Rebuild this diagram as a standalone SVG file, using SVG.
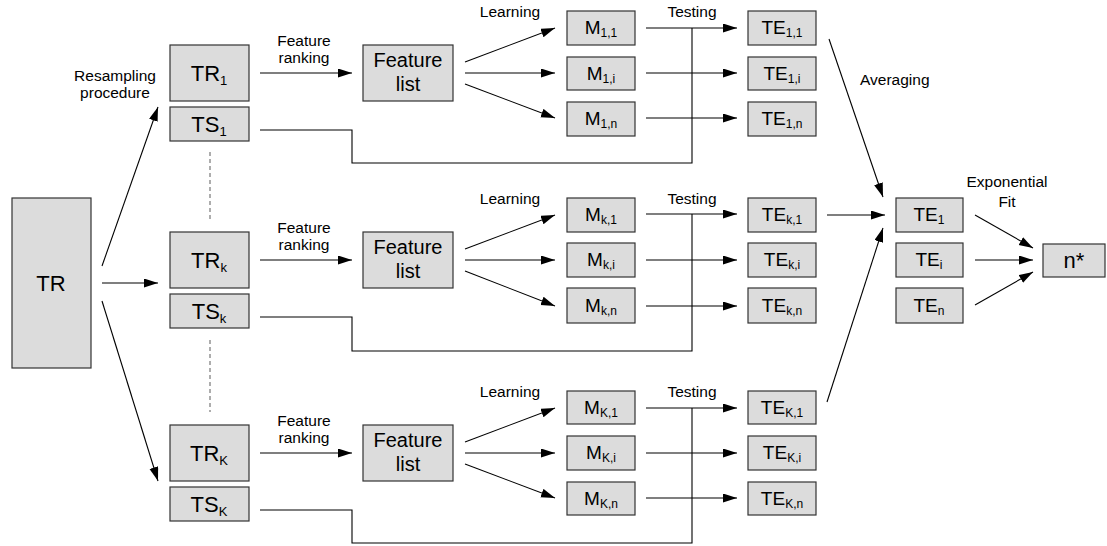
<svg xmlns="http://www.w3.org/2000/svg" width="1107" height="546" viewBox="0 0 1107 546">
<style>
.box{fill:#dcdcdc;stroke:#333;stroke-width:1.2}
.ln{fill:none;stroke:#000;stroke-width:1.1}
.ar{fill:none;stroke:#000;stroke-width:1.1;marker-end:url(#ah)}
.dash{fill:none;stroke:#777;stroke-width:1.2;stroke-dasharray:4,3}
text{font-family:"Liberation Sans",Arial,sans-serif;fill:#000;text-anchor:middle}
.big{font-size:22px}
.fl{font-size:20px}
.m{font-size:19px}
.lab{font-size:15.5px}
.sb{font-size:13px}
.ss{font-size:12px}
</style>
<defs>
<marker id="ah" markerUnits="userSpaceOnUse" markerWidth="16" markerHeight="10" refX="14" refY="4.5" orient="auto">
<path d="M0,0 L14,4.5 L0,9 z" fill="#000"/>
</marker>
</defs>
<g id="connectors">
<line class="ar" x1="102" y1="266" x2="158" y2="107"/>
<line class="ar" x1="102" y1="283" x2="158" y2="283"/>
<line class="ar" x1="102" y1="301" x2="158" y2="481"/>
<line class="dash" x1="210" y1="152" x2="210" y2="222"/>
<line class="dash" x1="210" y1="340" x2="210" y2="412"/>
<line class="ar" x1="260" y1="73" x2="352" y2="73"/>
<line class="ar" x1="465" y1="62" x2="555" y2="28"/>
<line class="ar" x1="465" y1="73" x2="555" y2="73"/>
<line class="ar" x1="465" y1="84" x2="555" y2="118"/>
<line class="ar" x1="646" y1="28" x2="737" y2="28"/>
<line class="ar" x1="646" y1="73" x2="737" y2="73"/>
<line class="ar" x1="646" y1="118" x2="737" y2="118"/>
<polyline class="ln" points="260,130 352,130 352,163 692,163 692,28"/>
<line class="ar" x1="260" y1="260" x2="352" y2="260"/>
<line class="ar" x1="465" y1="249" x2="555" y2="215"/>
<line class="ar" x1="465" y1="260" x2="555" y2="260"/>
<line class="ar" x1="465" y1="271" x2="555" y2="306"/>
<line class="ar" x1="646" y1="214" x2="737" y2="214"/>
<line class="ar" x1="646" y1="260" x2="737" y2="260"/>
<line class="ar" x1="646" y1="306" x2="737" y2="306"/>
<polyline class="ln" points="260,317 352,317 352,351 692,351 692,214"/>
<line class="ar" x1="260" y1="453" x2="352" y2="453"/>
<line class="ar" x1="465" y1="442" x2="555" y2="408"/>
<line class="ar" x1="465" y1="453" x2="555" y2="453"/>
<line class="ar" x1="465" y1="464" x2="555" y2="498"/>
<line class="ar" x1="646" y1="408" x2="737" y2="408"/>
<line class="ar" x1="646" y1="453" x2="737" y2="453"/>
<line class="ar" x1="646" y1="498" x2="737" y2="498"/>
<polyline class="ln" points="260,510 352,510 352,543 692,543 692,408"/>
<line class="ar" x1="829" y1="39" x2="883" y2="197"/>
<line class="ar" x1="827" y1="215" x2="885" y2="215"/>
<line class="ar" x1="827" y1="402" x2="883" y2="228"/>
<line class="ar" x1="975" y1="215" x2="1033" y2="248"/>
<line class="ar" x1="975" y1="260" x2="1033" y2="260"/>
<line class="ar" x1="975" y1="305" x2="1033" y2="272"/>
</g>
<g id="labels">
<text class="lab" x="115" y="81">Resampling</text>
<text class="lab" x="115" y="98">procedure</text>
<text class="lab" x="304" y="46">Feature</text>
<text class="lab" x="304" y="63">ranking</text>
<text class="lab" x="304" y="233">Feature</text>
<text class="lab" x="304" y="250">ranking</text>
<text class="lab" x="304" y="426">Feature</text>
<text class="lab" x="304" y="443">ranking</text>
<text class="lab" x="510" y="17">Learning</text>
<text class="lab" x="510" y="204">Learning</text>
<text class="lab" x="510" y="397">Learning</text>
<text class="lab" x="692" y="17">Testing</text>
<text class="lab" x="692" y="204">Testing</text>
<text class="lab" x="692" y="397">Testing</text>
<text class="lab" x="860" y="85" style="text-anchor:start">Averaging</text>
<text class="lab" x="1007" y="187">Exponential</text>
<text class="lab" x="1007" y="207">Fit</text>
</g>
<g id="TR"><rect class="box" x="12" y="198" width="79" height="170"/><text class="big" x="51" y="291">TR</text></g>
<g id="TR1"><rect class="box" x="170" y="45" width="79" height="56"/><text class="big" x="209" y="81">TR<tspan class="sb" dy="4">1</tspan></text></g>
<g id="TS1"><rect class="box" x="170" y="107" width="79" height="34"/><text class="big" x="209" y="132">TS<tspan class="sb" dy="4">1</tspan></text></g>
<g id="TRk"><rect class="box" x="170" y="232" width="79" height="56"/><text class="big" x="209" y="268">TR<tspan class="sb" dy="4">k</tspan></text></g>
<g id="TSk"><rect class="box" x="170" y="294" width="79" height="34"/><text class="big" x="209" y="319">TS<tspan class="sb" dy="4">k</tspan></text></g>
<g id="TRK"><rect class="box" x="170" y="425" width="79" height="56"/><text class="big" x="209" y="461">TR<tspan class="sb" dy="4">K</tspan></text></g>
<g id="TSK"><rect class="box" x="170" y="487" width="79" height="34"/><text class="big" x="209" y="512">TS<tspan class="sb" dy="4">K</tspan></text></g>
<g id="FL1"><rect class="box" x="363" y="45" width="90" height="56"/><text class="fl" x="408" y="67">Feature</text><text class="fl" x="408" y="91">list</text></g>
<g id="FLk"><rect class="box" x="363" y="232" width="90" height="56"/><text class="fl" x="408" y="254">Feature</text><text class="fl" x="408" y="278">list</text></g>
<g id="FLK"><rect class="box" x="363" y="425" width="90" height="56"/><text class="fl" x="408" y="447">Feature</text><text class="fl" x="408" y="471">list</text></g>
<g id="M11"><rect class="box" x="567" y="11" width="68" height="34"/><text class="m" x="601" y="34">M<tspan class="ss" dy="3">1,1</tspan></text></g>
<g id="M1i"><rect class="box" x="567" y="57" width="68" height="33"/><text class="m" x="601" y="80">M<tspan class="ss" dy="3">1,i</tspan></text></g>
<g id="M1n"><rect class="box" x="567" y="102" width="68" height="34"/><text class="m" x="601" y="125">M<tspan class="ss" dy="3">1,n</tspan></text></g>
<g id="Mk1"><rect class="box" x="567" y="198" width="68" height="34"/><text class="m" x="601" y="221">M<tspan class="ss" dy="3">k,1</tspan></text></g>
<g id="Mki"><rect class="box" x="567" y="243" width="68" height="34"/><text class="m" x="601" y="266">M<tspan class="ss" dy="3">k,i</tspan></text></g>
<g id="Mkn"><rect class="box" x="567" y="288" width="68" height="35"/><text class="m" x="601" y="312">M<tspan class="ss" dy="3">k,n</tspan></text></g>
<g id="MK1"><rect class="box" x="567" y="391" width="68" height="33"/><text class="m" x="601" y="414">M<tspan class="ss" dy="3">K,1</tspan></text></g>
<g id="MKi"><rect class="box" x="567" y="436" width="68" height="34"/><text class="m" x="601" y="459">M<tspan class="ss" dy="3">K,i</tspan></text></g>
<g id="MKn"><rect class="box" x="567" y="482" width="68" height="33"/><text class="m" x="601" y="505">M<tspan class="ss" dy="3">K,n</tspan></text></g>
<g id="TE11"><rect class="box" x="748" y="11" width="68" height="34"/><text class="m" x="782" y="34">TE<tspan class="ss" dy="3">1,1</tspan></text></g>
<g id="TE1i"><rect class="box" x="748" y="57" width="68" height="33"/><text class="m" x="782" y="80">TE<tspan class="ss" dy="3">1,i</tspan></text></g>
<g id="TE1n"><rect class="box" x="748" y="102" width="68" height="34"/><text class="m" x="782" y="125">TE<tspan class="ss" dy="3">1,n</tspan></text></g>
<g id="TEk1"><rect class="box" x="748" y="198" width="68" height="34"/><text class="m" x="782" y="221">TE<tspan class="ss" dy="3">k,1</tspan></text></g>
<g id="TEki"><rect class="box" x="748" y="243" width="68" height="34"/><text class="m" x="782" y="266">TE<tspan class="ss" dy="3">k,i</tspan></text></g>
<g id="TEkn"><rect class="box" x="748" y="288" width="68" height="35"/><text class="m" x="782" y="312">TE<tspan class="ss" dy="3">k,n</tspan></text></g>
<g id="TEK1"><rect class="box" x="748" y="391" width="68" height="33"/><text class="m" x="782" y="414">TE<tspan class="ss" dy="3">K,1</tspan></text></g>
<g id="TEKi"><rect class="box" x="748" y="436" width="68" height="34"/><text class="m" x="782" y="459">TE<tspan class="ss" dy="3">K,i</tspan></text></g>
<g id="TEKn"><rect class="box" x="748" y="482" width="68" height="33"/><text class="m" x="782" y="505">TE<tspan class="ss" dy="3">K,n</tspan></text></g>
<g id="TE1"><rect class="box" x="896" y="198" width="67" height="34"/><text class="m" x="929" y="221">TE<tspan class="ss" dy="3">1</tspan></text></g>
<g id="TEi"><rect class="box" x="896" y="243" width="67" height="34"/><text class="m" x="929" y="266">TE<tspan class="ss" dy="3">i</tspan></text></g>
<g id="TEn"><rect class="box" x="896" y="288" width="67" height="35"/><text class="m" x="929" y="312">TE<tspan class="ss" dy="3">n</tspan></text></g>
<g id="nstar"><rect class="box" x="1043" y="244" width="62" height="33"/><text class="big" x="1074" y="268">n*</text></g>
</svg>
